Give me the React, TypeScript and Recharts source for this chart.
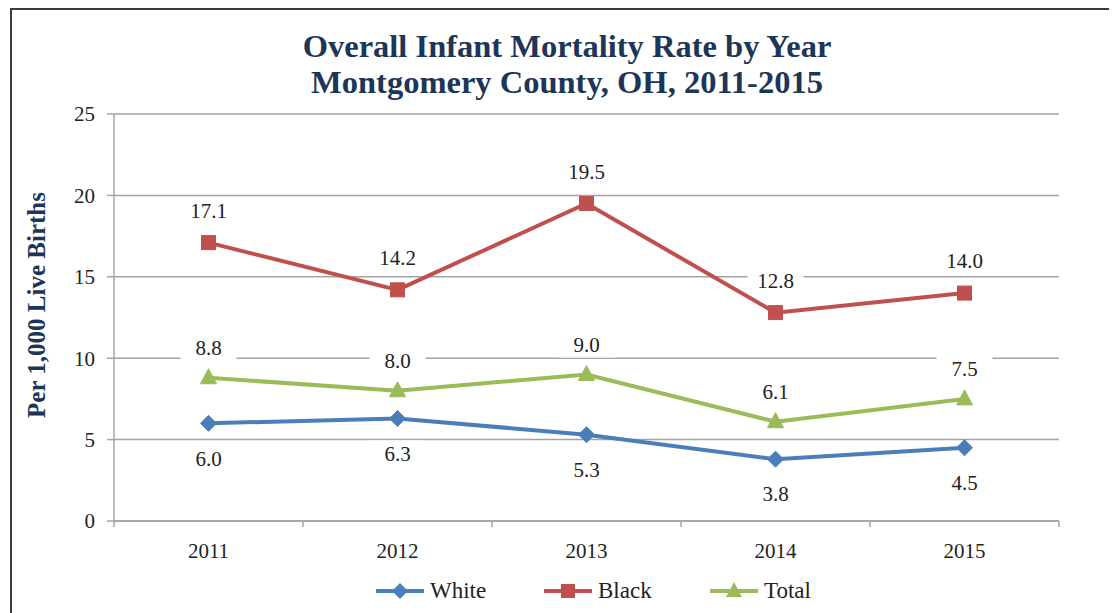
import { LineChart, Line, XAxis, YAxis, CartesianGrid, LabelList } from "recharts";

const years = ["2011", "2012", "2013", "2014", "2015"];
const white = [6.0, 6.3, 5.3, 3.8, 4.5];
const black = [17.1, 14.2, 19.5, 12.8, 14.0];
const total = [8.8, 8.0, 9.0, 6.1, 7.5];
const yTicks = [0, 5, 10, 15, 20, 25];

const data = years.map((y, i) => ({ year: y, white: white[i], black: black[i], total: total[i] }));

const FONT = "Liberation Serif, Times New Roman, serif";
const NAVY = "#1d3557";
const GRID = "#a3a3a3";
const BLUE = "#4a7ebb";
const RED = "#c0504d";
const GREEN = "#9bbb59";

const W = 1100;
const H = 600;
const M = { top: 106, right: 49, left: 0, bottom: 47 };
const Y_W = 106;
const BAND = (W - M.left - M.right - Y_W) / years.length;

const Diamond = (props: any) => {
  const { cx, cy } = props;
  if (cx == null || cy == null) return null;
  const r = 8;
  return <path d={`M${cx},${cy - r}L${cx + r},${cy}L${cx},${cy + r}L${cx - r},${cy}Z`} fill={BLUE} stroke={BLUE} />;
};
const Square = (props: any) => {
  const { cx, cy } = props;
  if (cx == null || cy == null) return null;
  return <rect x={cx - 7} y={cy - 7} width={14} height={14} fill={RED} stroke={RED} />;
};
const Triangle = (props: any) => {
  const { cx, cy } = props;
  if (cx == null || cy == null) return null;
  return <path d={`M${cx},${cy - 9}L${cx + 8},${cy + 6}L${cx - 8},${cy + 6}Z`} fill={GREEN} stroke={GREEN} />;
};

const textStyle = { fontFamily: FONT, fontSize: 21, fill: "#222" };

const makeLabel = (dy: number) => (props: any) => {
  const { x, y, value } = props;
  const txt = Number(value).toFixed(1);
  const cy = y + dy;
  return (
    <g>
      <rect x={x - 28} y={cy - 13} width={56} height={26} fill="#fff" />
      <text x={x} y={cy} dy="0.35em" textAnchor="middle" style={textStyle}>
        {txt}
      </text>
    </g>
  );
};

const XTick = (props: any) => {
  const { x, y, payload, index } = props;
  const axisY = y - 22;
  const left = x - BAND / 2;
  return (
    <g>
      <line x1={left} x2={left} y1={axisY} y2={axisY + 6} stroke={GRID} strokeWidth={1.5} />
      {index === years.length - 1 && (
        <line x1={x + BAND / 2} x2={x + BAND / 2} y1={axisY} y2={axisY + 6} stroke={GRID} strokeWidth={1.5} />
      )}
      <text x={x} y={y} dy="0.71em" textAnchor="middle" style={textStyle}>
        {payload.value}
      </text>
    </g>
  );
};

const YTick = (props: any) => {
  const { x, y, payload } = props;
  return (
    <text x={x} y={y} dy="0.35em" textAnchor="end" style={textStyle}>
      {payload.value}
    </text>
  );
};

const legendItems = [
  { name: "White", color: BLUE, left: 367, shape: "d" },
  { name: "Black", color: RED, left: 535, shape: "s" },
  { name: "Total", color: GREEN, left: 701, shape: "t" },
];

function LegendIcon({ color, shape }: { color: string; shape: string }) {
  return (
    <svg width={50} height={20} style={{ marginRight: 5 }}>
      <line x1={1} x2={49} y1={10} y2={10} stroke={color} strokeWidth={4} />
      {shape === "d" && <path d="M25,2L33,10L25,18L17,10Z" fill={color} />}
      {shape === "s" && <rect x={18} y={3} width={14} height={14} fill={color} />}
      {shape === "t" && <path d="M25,1L33,16L17,16Z" fill={color} />}
    </svg>
  );
}

export default function App() {
  return (
    <div style={{ position: "relative", width: 1109, height: 605, overflow: "hidden", fontFamily: FONT, background: "#fff" }}>
      <div
        style={{
          position: "absolute",
          left: 2,
          top: 0,
          width: 1140,
          height: 640,
          border: "2px solid #3a3a3a",
          boxSizing: "border-box",
        }}
      />
      <div
        style={{
          position: "absolute",
          left: 0,
          top: 20,
          width: 1118,
          textAlign: "center",
          fontWeight: "bold",
          fontSize: 32.5,
          lineHeight: "36px",
          color: NAVY,
        }}
      >
        Overall Infant Mortality Rate by Year
        <br />
        Montgomery County, OH, 2011-2015
      </div>
      <div
        style={{
          position: "absolute",
          left: 29 - 150,
          top: 297 - 15,
          width: 300,
          height: 30,
          lineHeight: "30px",
          textAlign: "center",
          transform: "rotate(-90deg)",
          fontWeight: "bold",
          fontSize: 25,
          color: NAVY,
        }}
      >
        Per 1,000 Live Births
      </div>
      <div style={{ position: "absolute", left: 0, top: 0 }}>
        <LineChart width={W} height={H} data={data} margin={M}>
          <CartesianGrid vertical={false} stroke={GRID} strokeWidth={1.5} />
          <XAxis
            dataKey="year"
            height={40}
            padding={{ left: BAND / 2, right: BAND / 2 }}
            tickSize={0}
            tickMargin={22}
            tickLine={false}
            axisLine={{ stroke: GRID, strokeWidth: 1.5 }}
            tick={<XTick />}
            interval={0}
          />
          <YAxis
            width={Y_W}
            domain={[0, 25]}
            ticks={yTicks}
            tickSize={7}
            tickMargin={12}
            tickLine={{ stroke: GRID, strokeWidth: 1.5 }}
            axisLine={{ stroke: GRID, strokeWidth: 1.5 }}
            tick={<YTick />}
          />
          <YAxis
            yAxisId="r"
            orientation="right"
            width={0}
            domain={[0, 25]}
            tick={false}
            tickLine={false}
            axisLine={{ stroke: GRID, strokeWidth: 1.5 }}
          />
          <Line dataKey="white" stroke={BLUE} strokeWidth={4} dot={<Diamond />} isAnimationActive={false}>
            <LabelList dataKey="white" content={makeLabel(35)} />
          </Line>
          <Line dataKey="black" stroke={RED} strokeWidth={4} dot={<Square />} isAnimationActive={false}>
            <LabelList dataKey="black" content={makeLabel(-32)} />
          </Line>
          <Line dataKey="total" stroke={GREEN} strokeWidth={4} dot={<Triangle />} isAnimationActive={false}>
            <LabelList dataKey="total" content={makeLabel(-30)} />
          </Line>
        </LineChart>
      </div>
      <div style={{ position: "absolute", top: 570, left: 0, width: 1109, height: 30 }}>
        {legendItems.map((it) => (
          <div
            key={it.name}
            style={{ position: "absolute", left: it.left, top: 0, display: "flex", alignItems: "center", fontSize: 23, color: "#222" }}
          >
            <LegendIcon color={it.color} shape={it.shape} />
            {it.name}
          </div>
        ))}
      </div>
    </div>
  );
}
